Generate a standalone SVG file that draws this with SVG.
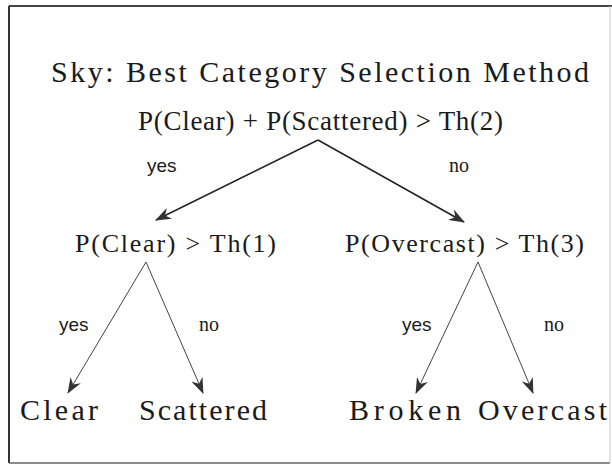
<svg xmlns="http://www.w3.org/2000/svg" width="612" height="465" viewBox="0 0 612 465">
<style>
.serif{font-family:"Liberation Serif","Times New Roman",serif;fill:#1a1a1a}
.t{font-size:30px}
.c{font-size:27px}
.m{font-size:26px}
.leaf{font-size:30px}
.lbl{font-family:"Liberation Sans",Arial,sans-serif;font-size:19px;fill:#1a1a1a}
.lblno{font-family:"Liberation Serif","Times New Roman",serif;font-size:20px;fill:#1a1a1a}
.e1{stroke:#222;stroke-width:1.5;fill:none}
.e2{stroke:#444;stroke-width:1;fill:none}
</style>
<defs>
<marker id="ah" markerUnits="userSpaceOnUse" viewBox="0 0 16 12" refX="15" refY="6" markerWidth="16" markerHeight="12" orient="auto">
<path d="M0,0 L16,6 L0,12 L5,6 Z" fill="#333"/>
</marker>
</defs>
<rect width="612" height="465" fill="#ffffff"/>
<g id="frame">
<path d="M9,6 H612" stroke="#444" stroke-width="2" fill="none"/>
<path d="M9,6 V463" stroke="#333" stroke-width="2" fill="none"/>
<path d="M9,463 H610" stroke="#666" stroke-width="1.5" fill="none"/>
<path d="M610,6 V463" stroke="#ccc" stroke-width="1" fill="none"/>
</g>
<g id="title"><text class="serif t" x="51" y="82" textLength="538" lengthAdjust="spacing">Sky: Best Category Selection Method</text></g>
<g id="connectors">
<path class="e1" d="M318,140 L156,220" marker-end="url(#ah)"/>
<path class="e1" d="M318,140 L464,222" marker-end="url(#ah)"/>
<path class="e2" d="M146,262 L68,393" marker-end="url(#ah)"/>
<path class="e2" d="M146,262 L203,393" marker-end="url(#ah)"/>
<path class="e2" d="M478,262 L416,393" marker-end="url(#ah)"/>
<path class="e2" d="M478,262 L533,393" marker-end="url(#ah)"/>
<text class="lbl" x="147" y="172">yes</text>
<text class="lblno" x="449" y="172">no</text>
<text class="lbl" x="59" y="331">yes</text>
<text class="lblno" x="199" y="331">no</text>
<text class="lbl" x="402" y="331">yes</text>
<text class="lblno" x="544" y="331">no</text>
</g>
<g id="root"><text class="serif c" x="138" y="130" textLength="365" lengthAdjust="spacing">P(Clear) + P(Scattered) &gt; Th(2)</text></g>
<g id="clearTest"><text class="serif m" x="75" y="252" textLength="201" lengthAdjust="spacing">P(Clear) &gt; Th(1)</text></g>
<g id="overcastTest"><text class="serif m" x="345" y="252" textLength="239" lengthAdjust="spacing">P(Overcast) &gt; Th(3)</text></g>
<g id="clear"><text class="serif leaf" x="20" y="420" textLength="78" lengthAdjust="spacing">Clear</text></g>
<g id="scattered"><text class="serif leaf" x="139" y="420" textLength="128" lengthAdjust="spacing">Scattered</text></g>
<g id="broken"><text class="serif leaf" x="349" y="420" textLength="112" lengthAdjust="spacing">Broken</text></g>
<g id="overcast"><text class="serif leaf" x="478" y="420" textLength="129" lengthAdjust="spacing">Overcast</text></g>
</svg>
